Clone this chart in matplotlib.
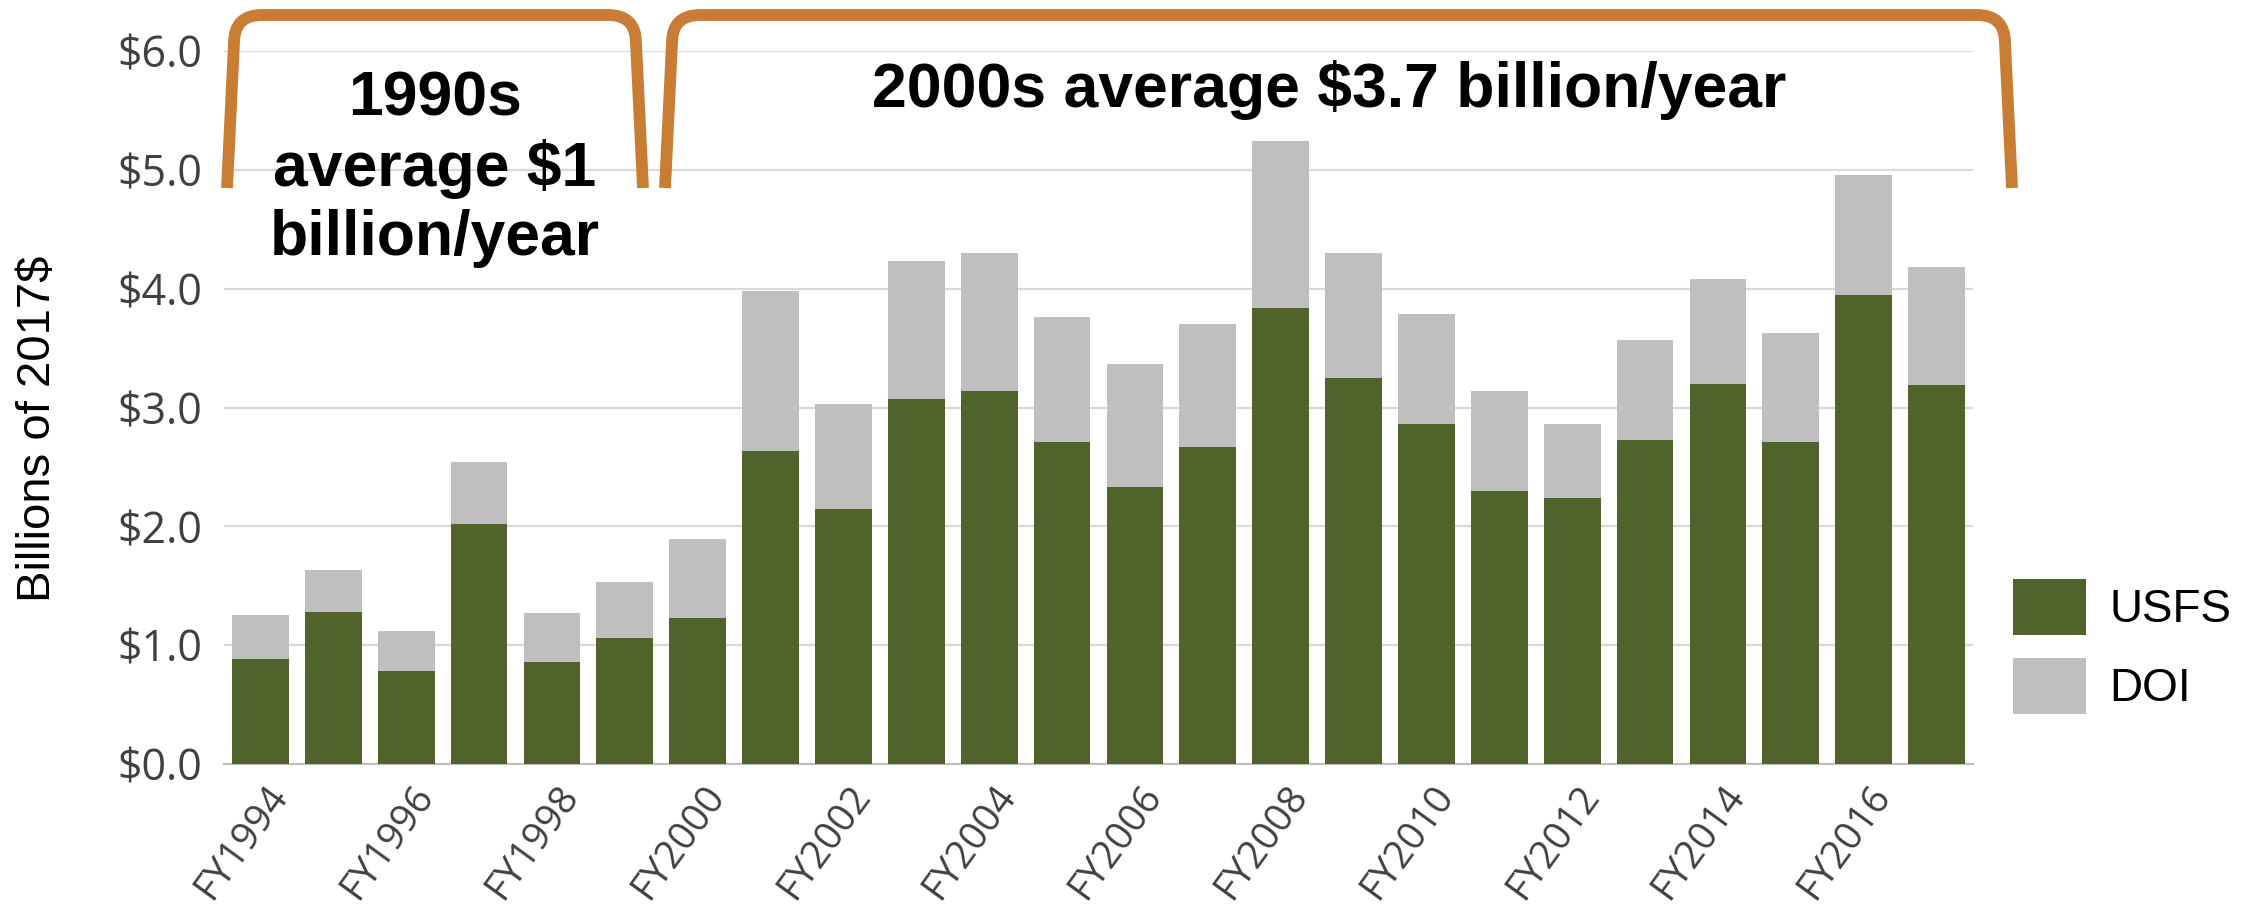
import matplotlib
matplotlib.use("Agg")
import matplotlib.pyplot as plt
from matplotlib.path import Path
from matplotlib.patches import PathPatch
from matplotlib.transforms import ScaledTranslation

years = ["FY%d" % y for y in range(1994, 2018)]
usfs = [0.88, 1.28, 0.78, 2.02, 0.86, 1.06, 1.23, 2.63, 2.15, 3.07, 3.14, 2.71,
        2.33, 2.67, 3.84, 3.25, 2.86, 2.30, 2.24, 2.73, 3.20, 2.71, 3.95, 3.19]
doi = [0.37, 0.35, 0.34, 0.52, 0.41, 0.47, 0.66, 1.35, 0.88, 1.16, 1.16, 1.05,
       1.04, 1.03, 1.40, 1.05, 0.93, 0.84, 0.62, 0.84, 0.88, 0.92, 1.01, 0.99]
yticks = [0, 1, 2, 3, 4, 5, 6]

GREEN = "#50632a"
GRAY = "#bfbfbf"
ORANGE = "#c97c34"

W, H = 2257, 915
fig = plt.figure(figsize=(W / 100, H / 100), dpi=100)
ax = fig.add_axes([224 / W, 1 - 764 / H, (1973 - 224) / W, (764 - 51) / H])

x = list(range(len(years)))
ax.bar(x, usfs, width=0.78, color=GREEN, zorder=3, label="USFS")
ax.bar(x, doi, width=0.78, bottom=usfs, color=GRAY, zorder=3, label="DOI")

ax.set_xlim(-0.5, len(years) - 0.5)
ax.set_ylim(0, 6)
ax.set_yticks(yticks)
ax.set_yticklabels(["$%.1f" % v for v in yticks], fontfamily="Open Sans",
                   fontsize=31, color="#404040")
ax.yaxis.grid(True, color="#d9d9d9", linewidth=1.6, zorder=0)
ax.tick_params(axis="both", length=0)
ax.tick_params(axis="y", pad=16)

ax.set_xticks(x[::2])
ax.set_xticklabels(years[::2], rotation=54, ha="right", va="top",
                   rotation_mode="anchor", fontfamily="Open Sans",
                   fontsize=28, color="#404040")
ax.tick_params(axis="x", pad=10)
offset = ScaledTranslation(0.04, 0, fig.dpi_scale_trans)
for lbl in ax.get_xticklabels():
    lbl.set_transform(lbl.get_transform() + offset)

for s in ["top", "left", "right"]:
    ax.spines[s].set_visible(False)
ax.spines["bottom"].set_color("#bfbfbf")
ax.spines["bottom"].set_linewidth(1.6)

fig.text(38 / W, 1 - 429 / H, "Billions of 2017$", rotation=90,
         ha="center", va="center", fontfamily="Liberation Sans", fontsize=34)

# legend
h, l = ax.get_legend_handles_labels()
fig.legend(h, l, loc="upper left", bbox_to_anchor=(2013 / W, 1 - 579 / H),
           frameon=False, prop={"family": "Liberation Sans", "size": 33},
           handlelength=1.6, handleheight=1.5, labelspacing=0.5,
           handletextpad=0.5, borderpad=0, borderaxespad=0)


# brackets drawn in figure pixel coords
def bracket(x0, x1, ytop, ybot, r, tilt=7):
    pts = [(x0, ybot), (x0 + tilt, ytop + r), (x0 + tilt, ytop),
           (x0 + tilt + r, ytop), (x1 - tilt - r, ytop), (x1 - tilt, ytop),
           (x1 - tilt, ytop + r), (x1, ybot)]
    codes = [Path.MOVETO, Path.LINETO, Path.CURVE3, Path.CURVE3,
             Path.LINETO, Path.CURVE3, Path.CURVE3, Path.LINETO]
    verts = [(px / W, 1 - py / H) for px, py in pts]
    patch = PathPatch(Path(verts, codes), transform=fig.transFigure,
                      facecolor="none", edgecolor=ORANGE, linewidth=8.5,
                      capstyle="butt", joinstyle="round")
    fig.add_artist(patch)


bracket(227, 643, 15, 188, 28)
bracket(665, 2012, 15, 188, 28)

fig.text(435 / W, 1 - 169 / H, "1990s\naverage $1\nbillion/year",
         ha="center", va="center", fontfamily="Liberation Sans",
         fontweight="bold", fontsize=45, linespacing=1.22)
fig.text(1329 / W, 1 - 90 / H, "2000s average $3.7 billion/year",
         ha="center", va="center", fontfamily="Liberation Sans",
         fontweight="bold", fontsize=45)

fig.savefig("out.png", dpi=100, facecolor="white")
